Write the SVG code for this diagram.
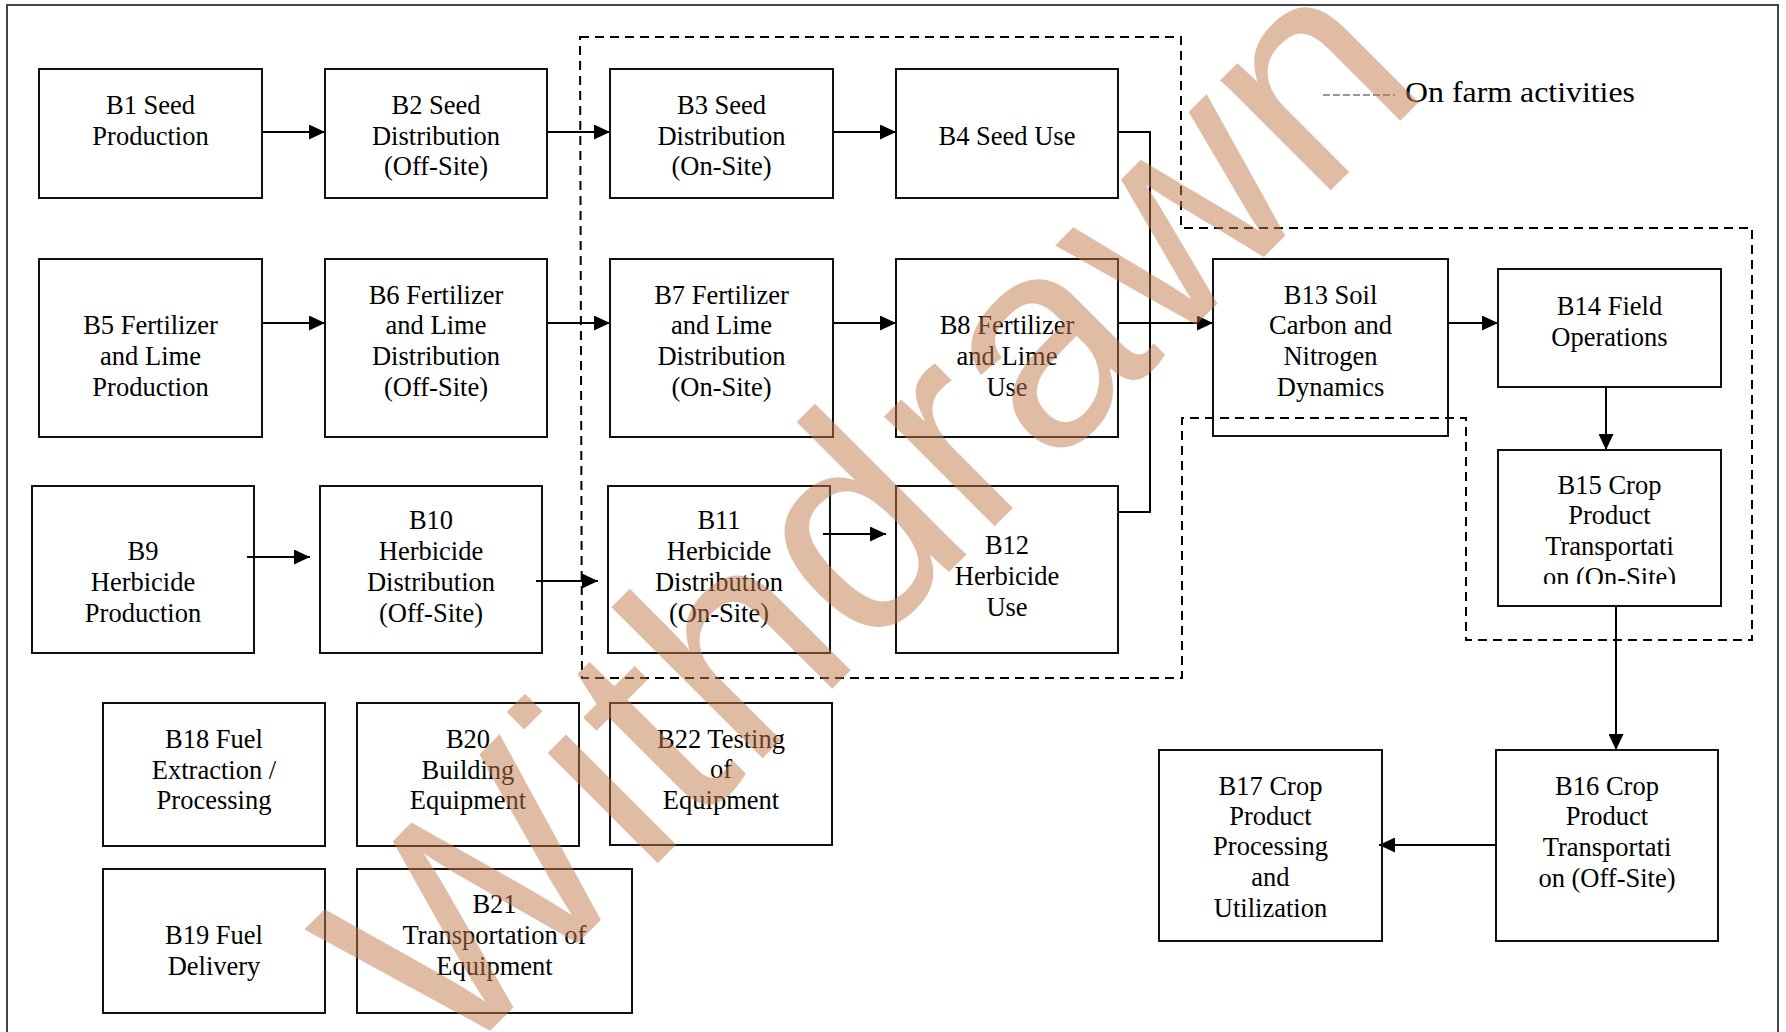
<svg xmlns="http://www.w3.org/2000/svg" width="1786" height="1032" viewBox="0 0 1786 1032">
<defs>
<style>
.box{fill:none;stroke:#111;stroke-width:2}
.t{font-family:"Liberation Serif","Times New Roman",serif;font-size:26.5px;fill:#000;text-anchor:middle}
.c{fill:none;stroke:#000;stroke-width:2}
.dash{fill:none;stroke:#000;stroke-width:2;stroke-dasharray:9 6}
</style>
<marker id="ah" viewBox="0 0 16 15" refX="16" refY="7.5" markerWidth="16" markerHeight="15" markerUnits="userSpaceOnUse" orient="auto">
<path d="M0,0 L16,7.5 L0,15 Z" fill="#000"/>
</marker>
<clipPath id="clip15"><rect x="1498" y="450" width="223" height="134"/></clipPath>
</defs>
<rect width="1786" height="1032" fill="#fff"/>
<path d="M7,1032 V5 H1778 V1032" fill="none" stroke="#444" stroke-width="2"/>

<g id="onfarm-region">
<path class="dash" d="M580,37 H1181 V228 H1752 V640 H1466 V418 H1182 V678 H582 Z"/>
</g>

<g id="legend">
<line x1="1323" y1="95" x2="1395" y2="95" stroke="#999" stroke-width="2" stroke-dasharray="7 3"/>
<text x="1405" y="102" font-family="Liberation Serif,Times New Roman,serif" font-size="30" fill="#000" textLength="230" lengthAdjust="spacingAndGlyphs">On farm activities</text>
</g>

<g id="connectors">
<line class="c" x1="262" y1="132" x2="325" y2="132" marker-end="url(#ah)"/>
<line class="c" x1="547" y1="132" x2="610" y2="132" marker-end="url(#ah)"/>
<line class="c" x1="833" y1="132" x2="896" y2="132" marker-end="url(#ah)"/>
<line class="c" x1="262" y1="323" x2="325" y2="323" marker-end="url(#ah)"/>
<line class="c" x1="547" y1="323" x2="610" y2="323" marker-end="url(#ah)"/>
<line class="c" x1="833" y1="323" x2="896" y2="323" marker-end="url(#ah)"/>
<line class="c" x1="1118" y1="323" x2="1213" y2="323" marker-end="url(#ah)"/>
<path class="c" d="M1118,132 H1150 V512 H1118"/>
<line class="c" x1="247" y1="557" x2="310" y2="557" marker-end="url(#ah)"/>
<line class="c" x1="536" y1="581" x2="598" y2="581" marker-end="url(#ah)"/>
<line class="c" x1="823" y1="534" x2="886" y2="534" marker-end="url(#ah)"/>
<line class="c" x1="1448" y1="323" x2="1498" y2="323" marker-end="url(#ah)"/>
<line class="c" x1="1606" y1="387" x2="1606" y2="450" marker-end="url(#ah)"/>
<line class="c" x1="1616" y1="606" x2="1616" y2="750" marker-end="url(#ah)"/>
<line class="c" x1="1496" y1="845" x2="1379" y2="845" marker-end="url(#ah)"/>
</g>

<g id="B1"><rect class="box" x="39" y="69" width="223" height="129"/>
<text class="t" x="150.5" y="114">B1 Seed</text><text class="t" x="150.5" y="145">Production</text></g>
<g id="B2"><rect class="box" x="325" y="69" width="222" height="129"/>
<text class="t" x="436" y="114">B2 Seed</text><text class="t" x="436" y="145">Distribution</text><text class="t" x="436" y="175">(Off-Site)</text></g>
<g id="B3"><rect class="box" x="610" y="69" width="223" height="129"/>
<text class="t" x="721.5" y="114">B3 Seed</text><text class="t" x="721.5" y="145">Distribution</text><text class="t" x="721.5" y="175">(On-Site)</text></g>
<g id="B4"><rect class="box" x="896" y="69" width="222" height="129"/>
<text class="t" x="1007" y="145">B4 Seed Use</text></g>
<g id="B5"><rect class="box" x="39" y="259" width="223" height="178"/>
<text class="t" x="150.5" y="334">B5 Fertilizer</text><text class="t" x="150.5" y="365">and Lime</text><text class="t" x="150.5" y="396">Production</text></g>
<g id="B6"><rect class="box" x="325" y="259" width="222" height="178"/>
<text class="t" x="436" y="304">B6 Fertilizer</text><text class="t" x="436" y="334">and Lime</text><text class="t" x="436" y="365">Distribution</text><text class="t" x="436" y="396">(Off-Site)</text></g>
<g id="B7"><rect class="box" x="610" y="259" width="223" height="178"/>
<text class="t" x="721.5" y="304">B7 Fertilizer</text><text class="t" x="721.5" y="334">and Lime</text><text class="t" x="721.5" y="365">Distribution</text><text class="t" x="721.5" y="396">(On-Site)</text></g>
<g id="B8"><rect class="box" x="896" y="259" width="222" height="178"/>
<text class="t" x="1007" y="334">B8 Fertilizer</text><text class="t" x="1007" y="365">and Lime</text><text class="t" x="1007" y="396">Use</text></g>
<g id="B9"><rect class="box" x="32" y="486" width="222" height="167"/>
<text class="t" x="143" y="560">B9</text><text class="t" x="143" y="591">Herbicide</text><text class="t" x="143" y="622">Production</text></g>
<g id="B10"><rect class="box" x="320" y="486" width="222" height="167"/>
<text class="t" x="431" y="529">B10</text><text class="t" x="431" y="560">Herbicide</text><text class="t" x="431" y="591">Distribution</text><text class="t" x="431" y="622">(Off-Site)</text></g>
<g id="B11"><rect class="box" x="608" y="486" width="222" height="167"/>
<text class="t" x="719" y="529">B11</text><text class="t" x="719" y="560">Herbicide</text><text class="t" x="719" y="591">Distribution</text><text class="t" x="719" y="622">(On-Site)</text></g>
<g id="B12"><rect class="box" x="896" y="486" width="222" height="167"/>
<text class="t" x="1007" y="554">B12</text><text class="t" x="1007" y="585">Herbicide</text><text class="t" x="1007" y="616">Use</text></g>
<g id="B13"><rect class="box" x="1213" y="259" width="235" height="177"/>
<text class="t" x="1330.5" y="304">B13 Soil</text><text class="t" x="1330.5" y="334">Carbon and</text><text class="t" x="1330.5" y="365">Nitrogen</text><text class="t" x="1330.5" y="396">Dynamics</text></g>
<g id="B14"><rect class="box" x="1498" y="269" width="223" height="118"/>
<text class="t" x="1609.5" y="315">B14 Field</text><text class="t" x="1609.5" y="346">Operations</text></g>
<g id="B15"><rect class="box" x="1498" y="450" width="223" height="156"/>
<g clip-path="url(#clip15)"><text class="t" x="1609.5" y="494">B15 Crop</text><text class="t" x="1609.5" y="524">Product</text><text class="t" x="1609.5" y="555">Transportati</text><text class="t" x="1609.5" y="586">on (On-Site)</text></g></g>
<g id="B16"><rect class="box" x="1496" y="750" width="222" height="191"/>
<text class="t" x="1607" y="795">B16 Crop</text><text class="t" x="1607" y="825">Product</text><text class="t" x="1607" y="856">Transportati</text><text class="t" x="1607" y="887">on (Off-Site)</text></g>
<g id="B17"><rect class="box" x="1159" y="750" width="223" height="191"/>
<text class="t" x="1270.5" y="795">B17 Crop</text><text class="t" x="1270.5" y="825">Product</text><text class="t" x="1270.5" y="855">Processing</text><text class="t" x="1270.5" y="886">and</text><text class="t" x="1270.5" y="917">Utilization</text></g>
<g id="B18"><rect class="box" x="103" y="703" width="222" height="143"/>
<text class="t" x="214" y="748">B18 Fuel</text><text class="t" x="214" y="779">Extraction /</text><text class="t" x="214" y="809">Processing</text></g>
<g id="B19"><rect class="box" x="103" y="869" width="222" height="144"/>
<text class="t" x="214" y="944">B19 Fuel</text><text class="t" x="214" y="975">Delivery</text></g>
<g id="B20"><rect class="box" x="357" y="703" width="222" height="143"/>
<text class="t" x="468" y="748">B20</text><text class="t" x="468" y="779">Building</text><text class="t" x="468" y="809">Equipment</text></g>
<g id="B21"><rect class="box" x="357" y="869" width="275" height="144"/>
<text class="t" x="494.5" y="913">B21</text><text class="t" x="494.5" y="944">Transportation of</text><text class="t" x="494.5" y="975">Equipment</text></g>
<g id="B22"><rect class="box" x="610" y="703" width="222" height="142"/>
<text class="t" x="721" y="748">B22 Testing</text><text class="t" x="721" y="778">of</text><text class="t" x="721" y="809">Equipment</text></g>

<g id="watermark">
<text transform="translate(447,1074) rotate(-45)" font-family="Liberation Sans,Arial,sans-serif" font-size="295" fill="#C1794B" fill-opacity="0.5">Withdrawn</text>
</g>
</svg>
